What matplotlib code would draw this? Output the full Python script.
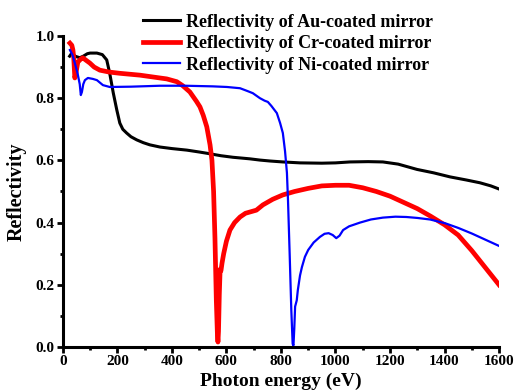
import numpy as np
import matplotlib
matplotlib.use("Agg")
import matplotlib.pyplot as plt
from matplotlib.ticker import MultipleLocator

plt.rcParams['font.family'] = ['Liberation Serif', 'DejaVu Serif']
plt.rcParams['font.weight'] = 'bold'

# Au-coated mirror (black)
eAu = [25, 33, 45, 62, 75, 90, 100, 125, 145, 161, 172, 185, 198, 209, 220, 234, 250,
       271, 295, 319, 356, 400, 455, 500, 528, 580, 624, 686, 723, 760, 807, 870,
       950, 1000, 1053, 1120, 1174, 1230, 1299, 1360, 1420, 1480, 1530, 1570, 1600]
rAu = [0.935, 0.945, 0.935, 0.93, 0.935, 0.943, 0.945, 0.945, 0.94, 0.923, 0.88,
       0.817, 0.762, 0.72, 0.7, 0.688, 0.676, 0.666, 0.657, 0.65, 0.643, 0.638, 0.633,
       0.627, 0.623, 0.615, 0.61, 0.605, 0.601, 0.598, 0.595, 0.592, 0.591, 0.592,
       0.595, 0.596, 0.595, 0.588, 0.571, 0.56, 0.547, 0.537, 0.528, 0.518, 0.508]

# Cr-coated mirror (red)
eCr = [26, 33, 37, 40, 44, 48, 55, 65, 73, 85, 99, 115, 136, 170, 209, 283, 356, 381,
       418, 440, 466, 490, 503, 515, 528, 540, 547, 553, 558, 563, 567, 569, 571, 574,
       577, 580, 584, 590, 600, 613, 630, 650, 670, 690, 710, 734, 770, 807, 850, 900,
       950, 1000, 1050, 1100, 1150, 1200, 1250, 1300, 1350, 1400, 1450, 1500, 1550,
       1600]
rCr = [0.977, 0.97, 0.955, 0.93, 0.865, 0.88, 0.916, 0.925, 0.93, 0.922, 0.913, 0.9,
       0.89, 0.884, 0.88, 0.874, 0.865, 0.862, 0.853, 0.84, 0.82, 0.79, 0.772, 0.745,
       0.708, 0.65, 0.6, 0.5, 0.35, 0.15, 0.04, 0.016, 0.05, 0.17, 0.25, 0.245, 0.27,
       0.3, 0.34, 0.376, 0.4, 0.418, 0.43, 0.435, 0.44, 0.457, 0.475, 0.489, 0.5, 0.51,
       0.518, 0.52, 0.52, 0.512, 0.5, 0.485, 0.465, 0.445, 0.42, 0.393, 0.36, 0.31,
       0.255, 0.2]

# Ni-coated mirror (blue)
eNi = [26, 35, 44, 54, 62, 66, 70, 75, 81, 92, 110, 125, 147, 172, 250, 356, 450, 550,
       602, 650, 680, 697, 723, 740, 752, 765, 785, 797, 807, 815, 822, 826, 832, 838,
       843, 846, 849, 852, 855, 858, 862, 870, 877, 888, 900, 920, 943, 960, 975, 990,
       1003, 1015, 1028, 1050, 1090, 1130, 1174, 1220, 1260, 1300, 1347, 1402, 1450,
       1500, 1550, 1600]
rNi = [0.955, 0.94, 0.913, 0.88, 0.845, 0.81, 0.82, 0.845, 0.858, 0.865, 0.862,
       0.858, 0.842, 0.836, 0.837, 0.84, 0.84, 0.838, 0.836, 0.832, 0.822, 0.816, 0.8,
       0.792, 0.788, 0.775, 0.752, 0.72, 0.688, 0.63, 0.56, 0.47, 0.3, 0.12, 0.01,
       0.005, 0.06, 0.13, 0.14, 0.15, 0.183, 0.23, 0.257, 0.29, 0.312, 0.336, 0.354,
       0.364, 0.366, 0.36, 0.35, 0.358, 0.376, 0.388, 0.4, 0.41, 0.416, 0.419, 0.418,
       0.415, 0.41, 0.398, 0.383, 0.365, 0.345, 0.325]

labels = ['Reflectivity of Au-coated mirror',
          'Reflectivity of Cr-coated mirror',
          'Reflectivity of Ni-coated mirror']

fig = plt.figure(figsize=(5.15, 3.91), dpi=100)
ax = fig.add_axes([0.122, 0.1125, 0.847, 0.7955])

ax.plot(eAu, rAu, color='black', lw=2.2, label=labels[0])
ax.plot(eCr, rCr, color='#ff0000', lw=3.4, label=labels[1])
ax.plot(eNi, rNi, color='#0000ff', lw=1.6, label=labels[2])

ax.set_xlim(0, 1600)
ax.set_ylim(0, 1.0)
ax.xaxis.set_major_locator(MultipleLocator(200))
ax.xaxis.set_minor_locator(MultipleLocator(100))
ax.yaxis.set_major_locator(MultipleLocator(0.2))
ax.yaxis.set_minor_locator(MultipleLocator(0.1))
ax.yaxis.set_major_formatter(plt.FormatStrFormatter('%.1f'))

for s in ['top', 'right']:
    ax.spines[s].set_visible(False)
for s in ['left', 'bottom']:
    ax.spines[s].set_linewidth(2.2)

ax.tick_params(which='major', direction='out', length=4, width=2, labelsize=11, pad=2)
ax.tick_params(which='minor', direction='out', length=2.5, width=2)
for t in ax.get_xticklabels() + ax.get_yticklabels():
    t.set_fontweight('bold')

ax.set_xlabel('Photon energy (eV)', fontsize=14, fontweight='bold', labelpad=3)
ax.set_ylabel('Reflectivity', fontsize=14.5, fontweight='bold', labelpad=6)

leg = fig.legend(loc='upper left', bbox_to_anchor=(0.261, 0.988), frameon=False,
                 prop={'weight': 'bold', 'size': 13}, handlelength=2.05,
                 handletextpad=0.3, labelspacing=0.25, borderpad=0)

plt.savefig('out.png', dpi=100)
